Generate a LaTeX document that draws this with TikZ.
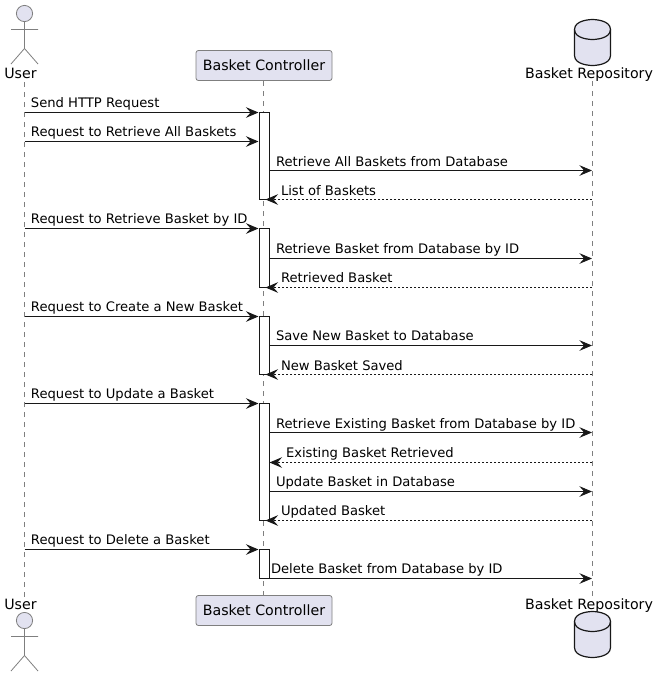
\documentclass[tikz,border=0pt]{standalone}
\usepackage{fontspec}
\setmainfont{DejaVu Sans}
\usetikzlibrary{arrows.meta,shapes.geometric}
\definecolor{pfill}{HTML}{E2E2F0}
\definecolor{pline}{HTML}{181818}
\definecolor{lifeg}{HTML}{7F7F7F}
\tikzset{
  x=0.75pt,y=-0.75pt,
  tip/.style={-{Stealth[length=9.5pt,width=8pt,inset=3.6pt]}},
  msg/.style={draw=pline,line width=0.75pt,tip},
  ret/.style={msg,dash pattern=on 1.5pt off 1.5pt},
  life/.style={draw=lifeg,line width=0.6pt,dash pattern=on 3.75pt off 3.75pt},
  mlabel/.style={anchor=base west,inner sep=0pt,outer sep=0pt,font=\fontsize{9.85pt}{12pt}\selectfont,text=black},
  plabel/.style={anchor=base,inner sep=0pt,outer sep=0pt,font=\fontsize{10.65pt}{12pt}\selectfont,text=black},
  pbox/.style={draw=lifeg,fill=pfill,rounded corners=1.8pt,line width=0.6pt,minimum width=102pt,minimum height=22.5pt,inner sep=0pt,font=\fontsize{10.65pt}{12pt}\selectfont,text=black},
  act/.style={draw=pline,fill=white,line width=0.75pt,minimum width=7.5pt,inner sep=0pt,outer sep=0pt,anchor=north},
  actorline/.style={draw=lifeg,line width=0.6pt},
  head/.style={draw=lifeg,fill=pfill,line width=0.6pt},
  dbline/.style={draw=pline,line width=0.9pt,fill=pfill},
}
\newcommand{\actorfig}[2]{% x, head-centre y
  \draw[head] (#1,#2) circle[radius=8.1];
  \draw[actorline] (#1,#2+8) -- (#1,#2+35) (#1-13.5,#2+16) -- (#1+13.5,#2+16)
    (#1,#2+35) -- (#1-13.5,#2+50.5) (#1,#2+35) -- (#1+13.5,#2+50.5);
}
\newcommand{\dbfig}[2]{% x, top y
  \draw[dbline] (#1-18,#2+10) .. controls (#1-18,#2) and (#1,#2) .. (#1,#2)
     .. controls (#1,#2) and (#1+18,#2) .. (#1+18,#2+10) -- (#1+18,#2+36)
     .. controls (#1+18,#2+46) and (#1,#2+46) .. (#1,#2+46)
     .. controls (#1,#2+46) and (#1-18,#2+46) .. (#1-18,#2+36) -- cycle;
  \draw[draw=pline,line width=0.9pt] (#1-18,#2+10) .. controls (#1-18,#2+20) and (#1,#2+20) .. (#1,#2+20)
     .. controls (#1,#2+20) and (#1+18,#2+20) .. (#1+18,#2+10);
}
\begin{document}
\begin{tikzpicture}
\useasboundingbox (0,0) rectangle (659,676);
% lifelines
\coordinate (uT) at (24.5,82); \coordinate (uB) at (24.5,597);
\coordinate (cT) at (263.5,81); \coordinate (cB) at (263.5,596);
\coordinate (rT) at (592.5,81); \coordinate (rB) at (592.5,597);
\draw[life] (uT) -- (uB);
\draw[life] (cT) -- (cB);
\draw[life] (rT) -- (rB);
% participants
\actorfig{24.5}{13.5}
\node[plabel] (userT) at (20.5,78) {User};
\node[pbox] (ctlT) at (264,65.5) {Basket Controller};
\dbfig{592.5}{19.5}
\node[plabel] (repoT) at (589,78) {Basket Repository};
\node[plabel] (userB) at (20.5,609) {User};
\node[pbox] (ctlB) at (264,610.5) {Basket Controller};
\node[plabel] (repoB) at (589,609) {Basket Repository};
\actorfig{24.5}{620.5}
\dbfig{592.5}{611.5}
% activations
\node[act,minimum height=86.5pt*0.75] (a1) at (264,112.5) {};
\node[act,minimum height=58.5pt*0.75] (a2) at (264,228.5) {};
\node[act,minimum height=58pt*0.75] (a3) at (264,316.5) {};
\node[act,minimum height=116.5pt*0.75] (a4) at (264,403.5) {};
\node[act,minimum height=29pt*0.75] (a5) at (264,549.5) {};
% lifeline endpoints of messages
\foreach \n/\y in {1/112.5,2/141.5,3/170.5,4/199.5,5/228.5,6/258.5,7/287.5,8/316.5,9/345.5,10/374.5,11/403.5,12/432.5,13/462.5,14/491.5,15/520.5,16/549.5,17/578.5}{
  \coordinate (u\n) at (24.5,\y);
  \coordinate (c\n) at (258.5,\y);
  \coordinate (s\n) at (269.5,\y);
  \coordinate (e\n) at (265.5,\y);
  \coordinate (r\n) at (592,\y);
}
% messages
\draw[msg] (u1) -- (c1);
\draw[msg] (u2) -- (c2);
\draw[msg] (s3) -- (r3);
\draw[ret] (r4) -- (e4);
\draw[msg] (u5) -- (c5);
\draw[msg] (s6) -- (r6);
\draw[ret] (r7) -- (e7);
\draw[msg] (u8) -- (c8);
\draw[msg] (s9) -- (r9);
\draw[ret] (r10) -- (e10);
\draw[msg] (u11) -- (c11);
\draw[msg] (s12) -- (r12);
\draw[ret] (r13) -- (s13);
\draw[msg] (s14) -- (r14);
\draw[ret] (r15) -- (e15);
\draw[msg] (u16) -- (c16);
\draw[msg] (s17) -- (r17);
% labels
\node[mlabel] (m1) at (31,107) {Send HTTP Request};
\node[mlabel] (m2) at (31,136) {Request to Retrieve All Baskets};
\node[mlabel] (m3) at (276,166) {Retrieve All Baskets from Database};
\node[mlabel] (m4) at (281,195) {List of Baskets};
\node[mlabel] (m5) at (31,223.5) {Request to Retrieve Basket by ID};
\node[mlabel] (m6) at (276,253) {Retrieve Basket from Database by ID};
\node[mlabel] (m7) at (281,282) {Retrieved Basket};
\node[mlabel] (m8) at (31,311) {Request to Create a New Basket};
\node[mlabel] (m9) at (276,340) {Save New Basket to Database};
\node[mlabel] (m10) at (281,370) {New Basket Saved};
\node[mlabel] (m11) at (31,398.5) {Request to Update a Basket};
\node[mlabel] (m12) at (276,428) {Retrieve Existing Basket from Database by ID};
\node[mlabel] (m13) at (286,457) {Existing Basket Retrieved};
\node[mlabel] (m14) at (276,486) {Update Basket in Database};
\node[mlabel] (m15) at (281,515) {Updated Basket};
\node[mlabel] (m16) at (31,544) {Request to Delete a Basket};
\node[mlabel] (m17) at (271,573) {Delete Basket from Database by ID};
\end{tikzpicture}
\end{document}
